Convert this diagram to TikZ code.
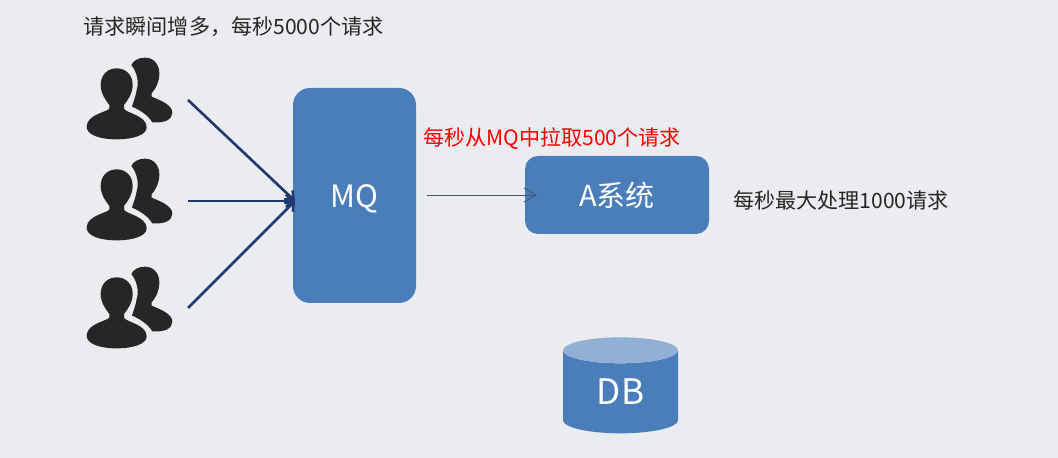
\documentclass[tikz,border=0pt]{standalone}
\usepackage{fontspec}
\setmainfont{Noto Sans CJK SC}
\usetikzlibrary{arrows.meta,shapes.geometric,positioning}
\definecolor{pagebg}{HTML}{EBECF0}
\definecolor{boxblue}{HTML}{4A7EBB}
\definecolor{boxtop}{HTML}{92B0D5}
\definecolor{arrowblue}{HTML}{1F3A6E}
\definecolor{thinarrow}{HTML}{44546A}
\definecolor{iconfill}{HTML}{262626}
\definecolor{textdark}{HTML}{262626}
\tikzset{
  box/.style={fill=boxblue,text=white,rounded corners=0.34cm,font=\fontsize{17.5}{20}\selectfont,inner sep=0pt},
  note/.style={text=textdark,font=\fontsize{12}{14}\selectfont,inner sep=0pt},
  feed/.style={arrowblue,line width=1.5pt,-{Straight Barb[length=4pt,width=7pt]}},
  users/.pic={
    \fill[iconfill,x=0.00667cm,y=-0.00667cm]
      (140,85) .. controls (112,85) and (92,105) .. (92,135)
      .. controls (92,160) and (105,178) .. (118,195) -- (118,205)
      .. controls (118,215) and (50,222) .. (50,260)
      .. controls (50,285) and (90,298) .. (140,298)
      .. controls (190,298) and (230,285) .. (230,262)
      .. controls (230,225) and (162,218) .. (162,205) -- (162,195)
      .. controls (175,178) and (188,160) .. (188,135)
      .. controls (188,105) and (168,85) .. (140,85) -- cycle
      (225,53) .. controls (205,53) and (190,62) .. (184,75)
      .. controls (200,95) and (208,125) .. (200,150)
      .. controls (197,170) and (190,185) .. (186,200)
      .. controls (215,212) and (235,228) .. (247,247)
      .. controls (285,250) and (307,238) .. (307,218)
      .. controls (307,195) and (270,180) .. (245,170) -- (245,160)
      .. controls (258,145) and (268,125) .. (268,100)
      .. controls (268,72) and (250,53) .. (225,53) -- cycle;
  }
}
\begin{document}
\begin{tikzpicture}
  \fill[pagebg](0,0)rectangle(21.16,9.16);
  \useasboundingbox(0,0)rectangle(21.16,9.16);
  \pic at (1.4,8.36){users};
  \pic at (1.4,6.34){users};
  \pic at (1.4,4.18){users};
  \node[box,minimum width=2.46cm,minimum height=4.3cm,text height=14pt,text depth=0pt](mq) at (7.09,5.25){MQ};
  \node[box,minimum width=3.68cm,minimum height=1.56cm,rounded corners=0.26cm,font=\fontsize{16.5}{19}\selectfont](sys) at (12.34,5.26){A系统};
  \node[cylinder,shape border rotate=90,aspect=0.55,cylinder uses custom fill,
    cylinder body fill=boxblue,cylinder end fill=boxtop,text=white,inner sep=0pt,
    minimum width=2.3cm,minimum height=1.92cm,font=\fontsize{20}{22}\selectfont](db) at (12.41,1.32){DB};
  \node[note](burst) at (4.67,8.62){请求瞬间增多，每秒5000个请求};
  \node[note,text=red](pull) at (11.04,6.38){每秒从MQ中拉取500个请求};
  \node[note](limit) at (16.82,5.16){每秒最大处理1000请求};
  \coordinate(u1) at (3.76,7.16);
  \coordinate(u2) at (3.76,5.14);
  \coordinate(u3) at (3.76,3);
  \coordinate(mqin) at (5.9,5.14);
  \coordinate(out) at (8.54,5.26);
  \coordinate(sysin) at (10.74,5.26);
  \draw[feed](u1)--(mqin);
  \draw[feed](u2)--(mqin);
  \draw[feed](u3)--(mqin);
  \draw[thinarrow,line width=0.5pt,-{Straight Barb[length=7pt,width=8pt]}](out)--(sysin);
\end{tikzpicture}
\end{document}
